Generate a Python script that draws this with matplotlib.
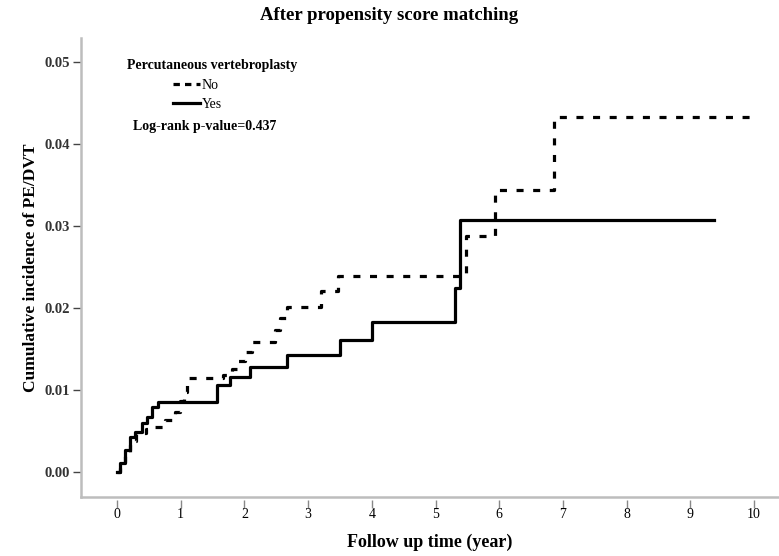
import matplotlib
matplotlib.use("Agg")
import matplotlib.pyplot as plt
from matplotlib.lines import Line2D

plt.rcParams['font.family'] = ['Liberation Serif', 'DejaVu Serif']

# Kaplan-Meier style cumulative incidence
# Yes = vertebroplasty (solid)
yes_t = [0.0, 0.05, 0.13, 0.20, 0.28, 0.39, 0.47, 0.55, 0.64, 1.57, 1.77, 2.09,
         2.67, 3.50, 4.00, 5.31, 5.39, 9.37]
yes_v = [0.0, 0.0011, 0.0027, 0.0043, 0.0049, 0.0060, 0.0067, 0.0079, 0.0085,
         0.0106, 0.0116, 0.0128, 0.0143, 0.0161, 0.0183, 0.0224, 0.0307, 0.0307]

# No = no vertebroplasty (dashed)
no_t = [0.0, 0.05, 0.12, 0.20, 0.30, 0.45, 0.60, 0.75, 0.91, 0.99, 1.05, 1.10,
        1.67, 1.80, 1.90, 2.01, 2.12, 2.48, 2.56, 2.67, 3.20, 3.47, 5.47, 5.93,
        6.86, 9.98]
no_v = [0.0, 0.0012, 0.0025, 0.0038, 0.0047, 0.0052, 0.0055, 0.0063, 0.0073,
        0.0086, 0.0098, 0.0115, 0.0118, 0.0125, 0.0135, 0.0146, 0.0159, 0.0173,
        0.0188, 0.0201, 0.0220, 0.0239, 0.0287, 0.0344, 0.0433, 0.0433]

x_ticks = [0, 1, 2, 3, 4, 5, 6, 7, 8, 9, 10]
y_ticks = [0.00, 0.01, 0.02, 0.03, 0.04, 0.05]

fig = plt.figure(figsize=(7.79, 5.56), dpi=100)
ax = fig.add_axes([0.104, 0.106, 0.896, 0.826])

ax.step(no_t, no_v, where='post', color='black', lw=2.3,
        dashes=(2.2, 3.0), solid_capstyle='butt')
ax.step(yes_t, yes_v, where='post', color='black', lw=2.3)

ylo, yhi = -0.00305, 0.0529
ax.set_xlim(-0.565, 10.39)
ax.set_ylim(ylo, yhi)

ax.set_xticks(x_ticks)
ax.set_yticks(y_ticks)
ax.set_xticklabels([str(t) for t in x_ticks], fontsize=10.5, fontweight='bold', color='#222222')
ax.set_yticklabels(['%.2f' % v for v in y_ticks], fontsize=10.5, fontweight='bold', color='#333333')

for s in ['top', 'right']:
    ax.spines[s].set_visible(False)
ax.spines['left'].set_color('#bdbdbd')
ax.spines['left'].set_linewidth(1.8)
# bottom axis line drawn separately so that ticks stand off it
ax.spines['bottom'].set_position(('outward', 2))
ax.spines['bottom'].set_visible(False)
ax.axhline(ylo, color='#bdbdbd', lw=1.8, clip_on=False)

ax.tick_params(axis='y', direction='out', length=6, width=1, color='#444444', pad=2)
ax.tick_params(axis='x', direction='out', length=6, width=1, color='#888888', pad=0)

ax.set_xlabel('Follow up time (year)', fontsize=13, fontweight='bold', labelpad=9)
ax.set_ylabel('Cumulative incidence of PE/DVT', fontsize=12.5, fontweight='bold', labelpad=4)
fig.text(0.5, 0.972, 'After propensity score matching', ha='center', va='center',
         fontsize=13.5, fontweight='bold')

# legend block
ax.text(0.066, 0.94, 'Percutaneous vertebroplasty', transform=ax.transAxes,
        fontsize=10, fontweight='bold', va='center', ha='left')
handles = [Line2D([], [], color='black', lw=2.3, dashes=(2.0, 1.6)),
           Line2D([], [], color='black', lw=2.3)]
ax.legend(handles, ['No', 'Yes'], loc='upper left', bbox_to_anchor=(0.132, 0.91),
          frameon=False, fontsize=10, handlelength=1.9, handletextpad=0.15,
          labelspacing=0.42, borderpad=0, borderaxespad=0)
ax.text(0.074, 0.806, 'Log-rank p-value=0.437', transform=ax.transAxes,
        fontsize=10, fontweight='bold', va='center', ha='left')

fig.savefig('out.png', dpi=100)
